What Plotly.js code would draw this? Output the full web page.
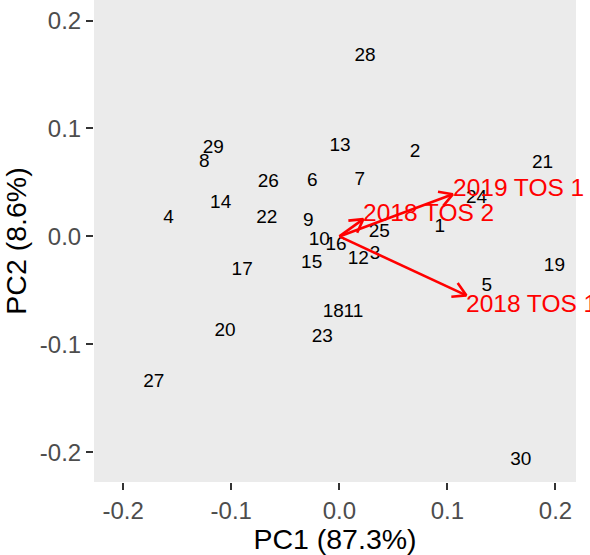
<!DOCTYPE html>
<html>
<head>
<meta charset="utf-8">
<script src="https://cdn.plot.ly/plotly-3.0.1.min.js"></script>
<style>html,body{margin:0;padding:0;background:#fff}#chart{width:590px;height:555px}</style>
</head>
<body>
<div id="chart"></div>
<script>
// Sample scores (PC1, PC2)
const sampleLabels = ['1','2','3','4','5','6','7','8','9','10','11','12','13','14','15','16','17','18','19','20','21','22','23','24','25','26','27','28','29','30'];
const pc1 = [0.093, 0.070, 0.033, -0.158, 0.1365, -0.025, 0.019, -0.125, -0.0287, -0.0185, 0.013, 0.0176, 0.0006, -0.1098, -0.0256, -0.003, -0.0899, -0.0055, 0.199, -0.1058, 0.188, -0.0672, -0.0157, 0.127, 0.037, -0.0657, -0.1716, 0.0238, -0.1167, 0.168];
const pc2 = [0.0089, 0.078, -0.0164, 0.0167, -0.046, 0.051, 0.052, 0.0685, 0.0142, -0.0034, -0.0698, -0.0213, 0.0836, 0.0306, -0.025, -0.008, -0.0312, -0.0698, -0.028, -0.0877, 0.0676, 0.0167, -0.093, 0.035, 0.0037, 0.0506, -0.135, 0.167, 0.0815, -0.2078];

// Variable loadings (arrow tips)
const varLabels = ['2018 TOS 1', '2018 TOS 2', '2019 TOS 1'];
const loadPC1 = [0.1175, 0.0222, 0.105];
const loadPC2 = [-0.0546, 0.016, 0.039];

const xTicks = [-0.2, -0.1, 0.0, 0.1, 0.2];
const xTickText = ['-0.2', '-0.1', '0.0', '0.1', '0.2'];
const yTicks = [-0.2, -0.1, 0.0, 0.1, 0.2];
const yTickText = ['-0.2', '-0.1', '0.0', '0.1', '0.2'];

const FONT = '"Liberation Sans", Arial, Helvetica, sans-serif';
const RED = '#FF0000';

const traces = [];
traces.push({
  type: 'scatter', mode: 'text', x: pc1, y: pc2, text: sampleLabels,
  textposition: 'middle center', cliponaxis: false,
  textfont: {family: FONT, size: 19, color: '#000000'}, hoverinfo: 'skip', showlegend: false
});

// arrows: shaft + open arrowhead barbs (equal-scaled axes)
const headLen = 0.0139, headAng = Math.PI / 6;
const ax = [], ay = [];
for (let i = 0; i < varLabels.length; i++) {
  const tx = loadPC1[i], ty = loadPC2[i];
  ax.push(0, tx, null); ay.push(0, ty, null);
  const back = Math.atan2(-ty, -tx);
  const b1x = tx + headLen * Math.cos(back + headAng), b1y = ty + headLen * Math.sin(back + headAng);
  const b2x = tx + headLen * Math.cos(back - headAng), b2y = ty + headLen * Math.sin(back - headAng);
  ax.push(b1x, tx, b2x, null); ay.push(b1y, ty, b2y, null);
}
traces.push({
  type: 'scatter', mode: 'lines', x: ax, y: ay, cliponaxis: false,
  line: {color: RED, width: 2.6}, hoverinfo: 'skip', showlegend: false
});

const annotations = varLabels.map((t, i) => ({
  x: loadPC1[i], y: loadPC2[i], xref: 'x', yref: 'y', text: t, showarrow: false,
  xanchor: 'left', yanchor: 'middle', xshift: -2, yshift: loadPC2[i] >= 0 ? 7 : -8,
  font: {family: FONT, size: 24.5, color: RED}
}));

const layout = {
  width: 590, height: 555,
  margin: {l: 94, r: 14, t: 0, b: 73, pad: 0},
  paper_bgcolor: '#FFFFFF', plot_bgcolor: '#EBEBEB',
  font: {family: FONT},
  showlegend: false,
  annotations: annotations,
  xaxis: {
    range: [-0.227, 0.219], tickvals: xTicks, ticktext: xTickText,
    showgrid: false, zeroline: false, showline: false,
    ticks: 'outside', ticklen: 7, tickwidth: 2, tickcolor: '#333333',
    tickfont: {family: FONT, size: 24, color: '#4D4D4D'},
    title: {text: 'PC1 (87.3%)', font: {family: FONT, size: 28.5, color: '#000000'}, standoff: 8},
    automargin: false, fixedrange: true
  },
  yaxis: {
    range: [-0.2275, 0.219], tickvals: yTicks, ticktext: yTickText,
    showgrid: false, zeroline: false, showline: false,
    ticks: 'outside', ticklen: 7, tickwidth: 2, tickcolor: '#333333',
    tickfont: {family: FONT, size: 24, color: '#4D4D4D'},
    title: {text: 'PC2 (8.6%)', font: {family: FONT, size: 28.5, color: '#000000'}, standoff: 10},
    automargin: false, fixedrange: true
  }
};

Plotly.newPlot('chart', traces, layout, {displayModeBar: false, staticPlot: true});
</script>
</body>
</html>
